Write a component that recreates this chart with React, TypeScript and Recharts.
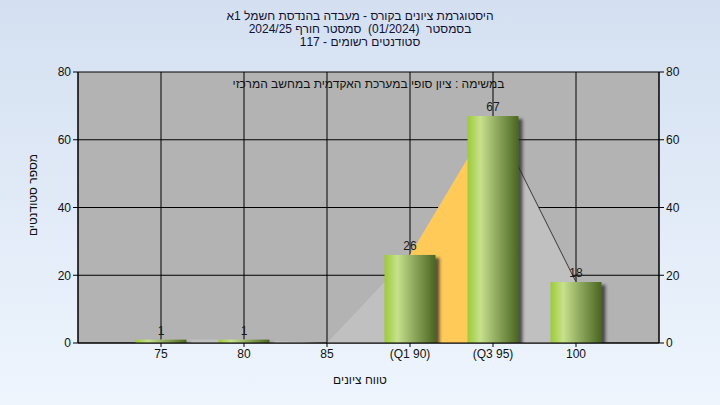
import React from 'react';
import {
  ComposedChart, Bar, Area, Line, XAxis, YAxis, CartesianGrid, LabelList,
} from 'recharts';

const categories = ['75', '80', '85', '(Q1 90)', '(Q3 95)', '100'];
const counts = [1, 1, 0, 26, 67, 18];
const iqrCounts: (number | null)[] = [null, null, null, 26, 67, null];
const tailCounts: (number | null)[] = [null, null, null, null, 67, 18];
const yTicks = [0, 20, 40, 60, 80];

const titleLines = [
  'היסטוגרמת ציונים בקורס - מעבדה בהנדסת חשמל 1א',
  'בסמסטר  (01/2024)  סמסטר חורף 2024/25',
  'סטודנטים רשומים - 117',
];
const subtitle = 'במשימה : ציון סופי במערכת האקדמית במחשב המרכזי';
const yTitle = 'מספר סטודנטים';
const xTitle = 'טווח ציונים';

const data = categories.map((c, i) => ({
  cat: c,
  v: counts[i],
  iqr: iqrCounts[i],
  tail: tailCounts[i],
}));

const FONT = '"Liberation Sans", Arial, sans-serif';

const CylBar = (props: any) => {
  const { x, y, width, height } = props;
  if (!height || height <= 0) return null;
  return (
    <rect x={x} y={y} width={width} height={height} fill="url(#cyl)" filter="url(#shadow)" />
  );
};

export default function App() {
  return (
    <div
      style={{
        position: 'absolute', left: 0, top: 0, width: 720, height: 405,
        background: 'linear-gradient(to bottom, #d4e0f1 0%, #eef5fd 100%)',
        fontFamily: FONT, overflow: 'hidden',
      }}
    >
      <ComposedChart
        width={720}
        height={405}
        data={data}
        margin={{ top: 72, right: 0, bottom: 32, left: 0 }}
      >
        <defs>
          <linearGradient id="cyl" x1="0" y1="0" x2="1" y2="0">
            <stop offset="0%" stopColor="#9bcb36" />
            <stop offset="25%" stopColor="#c7e18c" />
            <stop offset="55%" stopColor="#93ae62" />
            <stop offset="100%" stopColor="#4a6520" />
          </linearGradient>
          <filter id="shadow" x="-20%" y="-20%" width="150%" height="150%">
            <feDropShadow dx="4" dy="3" stdDeviation="1.6" floodColor="#2a2a2a" floodOpacity="0.75" />
          </filter>
        </defs>
        <CartesianGrid stroke="#000" strokeWidth={1} fill="#b3b3b3" fillOpacity={1} yAxisId="l" />
        <XAxis
          dataKey="cat"
          padding={{ left: 41.5, right: 41.5 }}
          tickSize={4}
          height={30}
          axisLine={{ stroke: '#000' }}
          tickLine={{ stroke: '#000' }}
          tick={{ fill: '#111', fontSize: 12, fontFamily: FONT }}
          interval={0}
        />
        <YAxis
          yAxisId="l"
          domain={[0, 80]}
          ticks={yTicks}
          width={78}
          tickSize={5}
          axisLine={{ stroke: '#000' }}
          tickLine={{ stroke: '#000' }}
          tick={{ fill: '#111', fontSize: 12, fontFamily: FONT }}
          allowDataOverflow
        />
        <YAxis
          yAxisId="r"
          orientation="right"
          domain={[0, 80]}
          ticks={yTicks}
          width={61}
          tickSize={5}
          axisLine={{ stroke: '#000' }}
          tickLine={{ stroke: '#000' }}
          tick={{ fill: '#111', fontSize: 12, fontFamily: FONT }}
          allowDataOverflow
        />
        <Area
          yAxisId="l"
          type="linear"
          dataKey="v"
          fill="#c0c0c0"
          fillOpacity={1}
          stroke="none"
          activeDot={false}
          isAnimationActive={false}
        />
        <Area
          yAxisId="l"
          type="linear"
          dataKey="iqr"
          fill="#ffca58"
          fillOpacity={1}
          stroke="none"
          activeDot={false}
          isAnimationActive={false}
        />
        <Area
          yAxisId="l"
          type="linear"
          dataKey="tail"
          fill="none"
          fillOpacity={0}
          stroke="#3a3a3a"
          strokeWidth={1}
          activeDot={false}
          baseValue="dataMin"
          isAnimationActive={false}
        />
        <Line
          yAxisId="r"
          dataKey="v"
          stroke="none"
          dot={false}
          activeDot={false}
          isAnimationActive={false}
        />
        <Bar yAxisId="l" dataKey="v" barSize={51} shape={CylBar} isAnimationActive={false}>
          <LabelList
            dataKey="v"
            position="top"
            offset={5}
            fill="#1a1a1a"
            fontSize={12}
            fontFamily={FONT}
            formatter={(val: any) => (val ? String(val) : '')}
          />
        </Bar>
      </ComposedChart>

      <div
        style={{
          position: 'absolute', left: 0, top: 10, width: 720, textAlign: 'center',
          fontSize: 12, lineHeight: '13px', color: '#111133', direction: 'rtl',
          whiteSpace: 'pre',
        }}
      >
        {titleLines.map((t, i) => (
          <div key={i}>{t}</div>
        ))}
      </div>
      <div
        style={{
          position: 'absolute', left: 78, top: 77, width: 581, textAlign: 'center',
          fontSize: 12, lineHeight: '14px', color: '#111', direction: 'rtl',
        }}
      >
        {subtitle}
      </div>
      <div
        style={{
          position: 'absolute', left: 33 - 60, top: 195 - 7, width: 120, textAlign: 'center',
          fontSize: 12, lineHeight: '14px', color: '#111', direction: 'rtl',
          transform: 'rotate(-90deg)', transformOrigin: '60px 7px',
        }}
      >
        {yTitle}
      </div>
      <div
        style={{
          position: 'absolute', left: 0, top: 373, width: 720, textAlign: 'center',
          fontSize: 12, lineHeight: '14px', color: '#111', direction: 'rtl',
        }}
      >
        {xTitle}
      </div>
    </div>
  );
}
